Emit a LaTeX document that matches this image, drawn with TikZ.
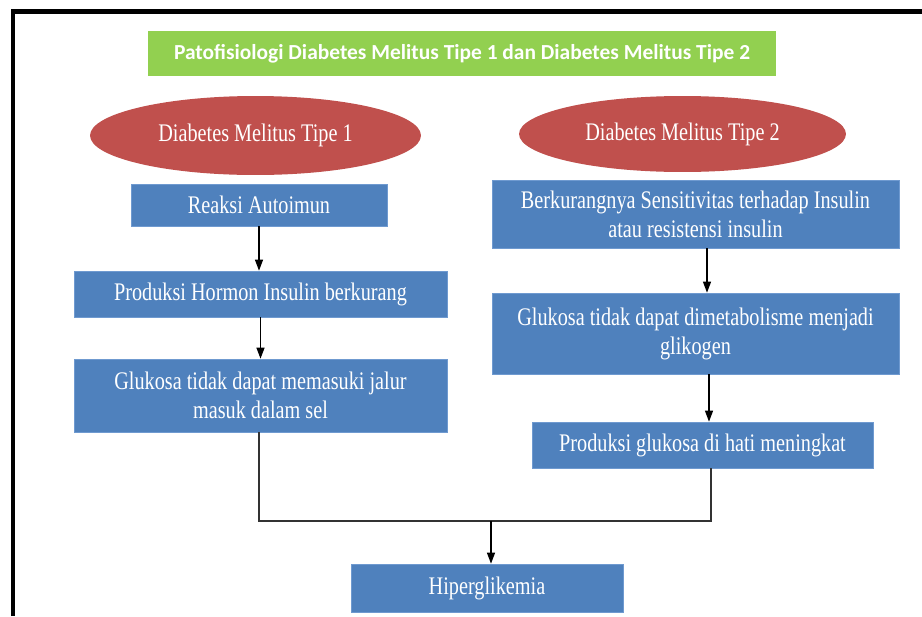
\documentclass[tikz,border=0pt]{standalone}
\usepackage{fontspec}
\setmainfont{Liberation Serif}[FakeStretch=0.8]
\newfontfamily\headfont{Carlito}
\usepackage{xcolor}
\usetikzlibrary{arrows.meta,shapes.geometric}
\definecolor{ink}{HTML}{000000}
\definecolor{headgreen}{HTML}{92D050}
\definecolor{typered}{HTML}{C0504D}
\definecolor{stepblue}{HTML}{4F81BD}
\definecolor{stepedge}{HTML}{6F9AD0}
\tikzset{
  >={Triangle[length=2.2mm,width=1.6mm]},
  headbar/.style={fill=headgreen,inner sep=0pt,font=\headfont\bfseries\fontsize{12.2}{14}\selectfont,text=white},
  typeoval/.style={ellipse,fill=typered,inner sep=0pt,font=\fontsize{14.4}{17}\selectfont,text=white},
  stepbox/.style={rectangle,fill=stepblue,draw=stepedge,line width=.4pt,inner sep=0pt,align=center,
    font=\fontsize{14.4}{16.5}\selectfont,text=white},
  flow/.style={->,line width=.7pt,color=ink},
  joinline/.style={line width=.8pt,color=ink!80},
}

\begin{document}
\begin{tikzpicture}[x=.02cm,y=-.02cm]
  \useasboundingbox (0,0) rectangle (922,616);
  \draw[line width=2.3pt] (13,616) -- (13,11.5) -- (922,11.5);

  \node[headbar,minimum width=12.56cm,minimum height=.9cm] (head) at (462,53.5)
    {Patofisiologi Diabetes Melitus Tipe 1 dan Diabetes Melitus Tipe 2};

  \node[typeoval,minimum width=6.62cm,minimum height=1.58cm] (dmone) at (255.5,135.5) {Diabetes Melitus Tipe 1};
  \node[typeoval,minimum width=6.54cm,minimum height=1.52cm] (dmtwo) at (682.5,134) {Diabetes Melitus Tipe 2};

  % tipe 1
  \node[stepbox,minimum width=5.12cm,minimum height=.84cm] (auto) at (259,205) {Reaksi Autoimun};
  \node[stepbox,minimum width=7.46cm,minimum height=.92cm] (hormon) at (260.5,294) {Produksi Hormon Insulin berkurang};
  \node[stepbox,minimum width=7.46cm,minimum height=1.46cm] (masuk) at (260.5,395.5)
    {Glukosa tidak dapat memasuki jalur\\masuk dalam sel};

  % tipe 2
  \node[stepbox,minimum width=8.14cm,minimum height=1.36cm] (sensi) at (695.5,214)
    {Berkurangnya Sensitivitas terhadap Insulin\\atau resistensi insulin};
  \node[stepbox,minimum width=8.14cm,minimum height=1.62cm] (glikogen) at (695.5,333.5)
    {Glukosa tidak dapat dimetabolisme menjadi\\glikogen};
  \node[stepbox,minimum width=6.82cm,minimum height=.92cm] (hati) at (702.5,445)
    {Produksi glukosa di hati meningkat};

  \node[stepbox,minimum width=5.44cm,minimum height=.96cm] (hiper) at (487,588) {Hiperglikemia};

  \draw[flow] (auto.south) -- (auto.south |- hormon.north);
  \draw[flow] (hormon.south) -- (masuk.north);
  \draw[flow] ([xshift=.23cm]sensi.south) -- ([xshift=.23cm]sensi.south |- glikogen.north);
  \draw[flow] ([xshift=.27cm]glikogen.south) -- ([xshift=.27cm]glikogen.south |- hati.north);

  \coordinate (lefttee) at (259,521);
  \coordinate (righttee) at (711,521);
  \coordinate (merge) at (491,521);
  \draw[joinline] (masuk.south -| lefttee) -- (lefttee) -- (righttee) -- (hati.south -| righttee);
  \draw[flow] (merge) -- (merge |- hiper.north);
\end{tikzpicture}
\end{document}
